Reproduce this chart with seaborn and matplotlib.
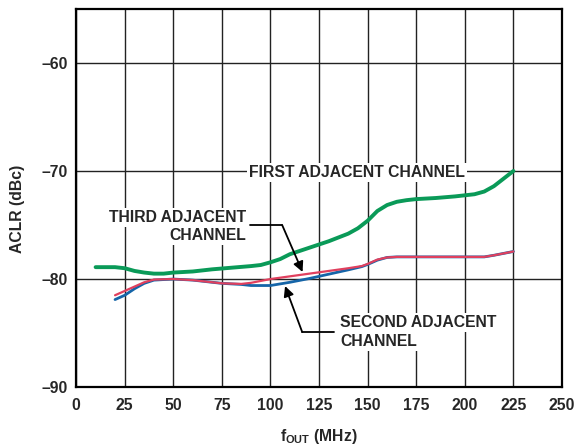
import pandas as pd
import numpy as np
import matplotlib
matplotlib.use("Agg")
import matplotlib.pyplot as plt
import seaborn as sns

# ACLR vs fOUT
first_f = [10, 20, 25, 30, 35, 40, 45, 50, 55, 60, 70, 80, 90, 95, 100, 105, 110, 120,
           130, 140, 145, 150, 155, 160, 165, 170, 175, 185, 195, 205, 210, 215, 220, 225]
first_aclr = [-78.9, -78.9, -79.0, -79.25, -79.4, -79.5, -79.5, -79.4, -79.35, -79.3, -79.1,
              -78.95, -78.8, -78.7, -78.45, -78.15, -77.7, -77.1, -76.5, -75.8, -75.3, -74.6,
              -73.7, -73.15, -72.85, -72.7, -72.6, -72.5, -72.35, -72.15, -71.9, -71.4, -70.7, -70.0]

second_f = [20, 25, 30, 35, 40, 50, 60, 75, 85, 90, 100, 105, 110, 120, 130, 140, 147, 150,
            155, 160, 165, 175, 190, 210, 215, 225]
second_aclr = [-81.9, -81.5, -80.9, -80.4, -80.1, -80.0, -80.1, -80.4, -80.5, -80.6, -80.6,
               -80.45, -80.3, -79.95, -79.55, -79.15, -78.85, -78.65, -78.25, -78.0, -77.95,
               -77.95, -77.95, -77.95, -77.8, -77.45]

third_f = [20, 25, 30, 35, 40, 50, 60, 75, 85, 90, 100, 110, 120, 130, 140, 147, 150, 155,
           160, 165, 175, 190, 210, 215, 225]
third_aclr = [-81.5, -81.1, -80.7, -80.3, -80.05, -80.0, -80.1, -80.4, -80.45, -80.35, -80.0,
              -79.75, -79.5, -79.25, -79.0, -78.8, -78.6, -78.2, -78.0, -77.95, -77.95, -77.95,
              -77.95, -77.8, -77.45]

x_ticks = [0, 25, 50, 75, 100, 125, 150, 175, 200, 225, 250]
y_ticks = [-90, -80, -70, -60]
y_ticklabels = ['–90', '–80', '–70', '–60']

df = pd.concat([
    pd.DataFrame({'f': first_f, 'aclr': first_aclr, 'channel': 'first'}),
    pd.DataFrame({'f': second_f, 'aclr': second_aclr, 'channel': 'second'}),
    pd.DataFrame({'f': third_f, 'aclr': third_aclr, 'channel': 'third'}),
])

colors = {'first': '#0a9a58', 'second': '#1565a8', 'third': '#e0405e'}
widths = {'first': 2.8, 'second': 2.0, 'third': 1.6}

sns.set_style("white")
plt.rcParams['font.family'] = ['Liberation Sans', 'DejaVu Sans']
plt.rcParams['font.weight'] = 'bold'

fig, ax = plt.subplots(figsize=(5.86, 4.48), dpi=100)
fig.subplots_adjust(left=0.130, right=0.959, bottom=0.136, top=0.980)

for ch in ['first', 'second', 'third']:
    sns.lineplot(data=df[df.channel == ch], x='f', y='aclr', color=colors[ch],
                 lw=widths[ch], estimator=None, ax=ax, zorder=3)

fs = 11.3
ax.set_xlim(0, 250)
ax.set_ylim(-90, -55)
ax.set_xticks(x_ticks)
ax.set_yticks(y_ticks)
ax.set_yticklabels(y_ticklabels)
ax.grid(True, color='#222222', lw=1.0, zorder=0)
ax.set_axisbelow(True)
for s in ax.spines.values():
    s.set_color('black')
    s.set_linewidth(1.6)
ax.tick_params(length=0, labelsize=fs)
ax.tick_params(axis='y', pad=6)
ax.tick_params(axis='x', pad=8)
for lbl in ax.get_xticklabels() + ax.get_yticklabels():
    lbl.set_fontweight('bold')

ax.set_xlabel(r'f$_{\mathregular{OUT}}$ (MHz)', fontsize=fs, fontweight='bold', labelpad=10)
ax.set_ylabel('ACLR (dBc)', fontsize=fs, fontweight='bold')
ax.yaxis.set_label_coords(-0.105, 0.47)

box = dict(facecolor='white', edgecolor='none', pad=1.5)
kw = dict(fontsize=fs, fontweight='bold', bbox=box, zorder=2)

# first adjacent
ax.text(89.0, -70.1, 'FIRST ADJACENT CHANNEL', ha='left', va='center', **kw)

# third adjacent
ax.text(87.4, -74.3, 'THIRD ADJACENT', ha='right', va='center', **kw)
ax.text(87.4, -75.95, 'CHANNEL', ha='right', va='center', **kw)
ax.plot([89.5, 106], [-75.0, -75.0], color='black', lw=1.3, zorder=4)
ax.annotate('', xy=(116.5, -79.35), xytext=(106, -75.0),
            arrowprops=dict(arrowstyle='-|>', color='black', lw=1.3,
                            mutation_scale=15, shrinkA=0, shrinkB=0), zorder=4)

# second adjacent
ax.text(135.8, -84.05, 'SECOND ADJACENT', ha='left', va='center', **kw)
ax.text(135.8, -85.8, 'CHANNEL', ha='left', va='center', **kw)
ax.plot([132.5, 116.3], [-84.9, -84.9], color='black', lw=1.3, zorder=4)
ax.annotate('', xy=(107.5, -80.65), xytext=(116.3, -84.9),
            arrowprops=dict(arrowstyle='-|>', color='black', lw=1.3,
                            mutation_scale=15, shrinkA=0, shrinkB=0), zorder=4)

fig.savefig('out.png', dpi=100)
